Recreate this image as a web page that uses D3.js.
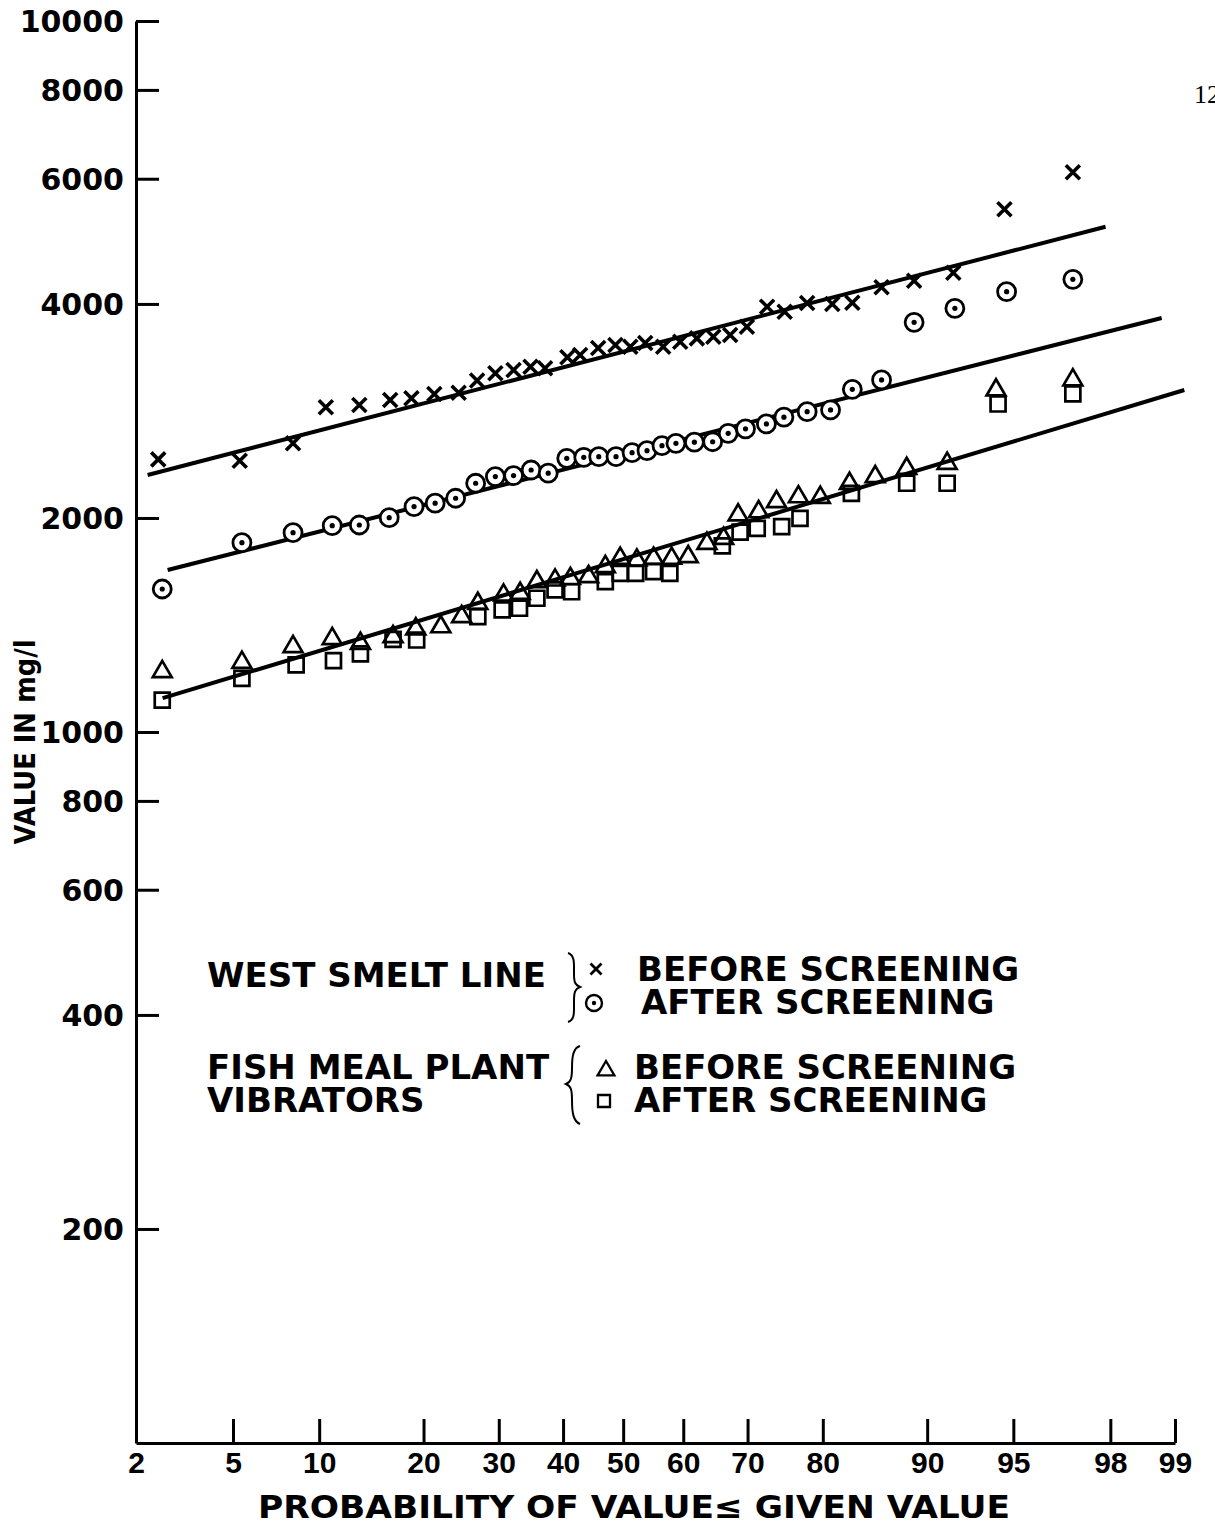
<!DOCTYPE html>
<html>
<head>
<meta charset="utf-8">
<script src="https://cdn.jsdelivr.net/npm/d3@7"></script>
<style>
  html, body { margin: 0; padding: 0; background: #fff; }
  svg { display: block; }
</style>
</head>
<body>
<div id="chart"></div>
<script>
// ===== data: probability (%) of value <= given value, value in mg/l =====

const xTicks = [2, 5, 10, 20, 30, 40, 50, 60, 70, 80, 90, 95, 98, 99]
const yTicks = [200, 400, 600, 800, 1000, 2000, 4000, 6000, 8000, 10000]

// west smelt line, before screening (x)
const smeltBeforeP = [2.5, 5.3, 8.2, 10.5, 13.3, 16.3, 18.6, 21.3, 24.4, 26.9, 29.5, 32.2, 34.8, 37.1, 40.7, 42.8, 45.8, 48.7,
  51.2, 53.7, 56.7, 59.5, 62.2, 64.8, 67.4, 69.9, 72.8, 75.2, 78.1, 81.1, 83.3, 86.2, 89.0, 91.8, 94.6, 97.1]
const smeltBeforeV = [2418, 2407, 2547, 2862, 2884, 2931, 2947, 2989, 3001, 3122, 3195, 3229, 3264, 3247, 3365, 3390, 3468, 3502,
  3483, 3525, 3483, 3540, 3578, 3597, 3618, 3715, 3965, 3900, 4013, 3999, 4016, 4222, 4312, 4426, 5435, 6128]

// west smelt line, after screening (dotted circle)
const smeltAfterP = [2.6, 5.4, 8.2, 11.0, 13.3, 16.2, 18.9, 21.4, 24.0, 26.7, 29.5, 32.2, 34.9, 37.6, 40.6, 43.4, 45.9, 48.8,
  51.5, 54.0, 56.5, 58.8, 61.8, 64.7, 67.1, 69.7, 72.7, 75.1, 78.1, 80.9, 83.3, 86.2, 89.0, 91.9, 94.7, 97.1]
const smeltAfterV = [1589, 1846, 1907, 1951, 1955, 2002, 2075, 2098, 2132, 2238, 2287, 2294, 2336, 2312, 2426, 2434, 2439, 2439,
  2471, 2487, 2528, 2547, 2556, 2560, 2631, 2669, 2712, 2772, 2822, 2838, 3034, 3127, 3769, 3944, 4162, 4332]

// fish meal plant vibrators, before screening (triangle)
const fishBeforeP = [2.6, 5.4, 8.2, 11.0, 13.4, 16.6, 19.1, 22.1, 24.8, 27.0, 30.7, 33.2, 35.8, 38.7, 41.2, 44.2, 47.0, 49.5,
  52.3, 55.1, 58.1, 60.8, 63.8, 66.4, 68.6, 71.6, 74.1, 77.0, 79.7, 83.0, 85.6, 88.4, 91.4, 94.2, 97.1]
const fishBeforeV = [1223, 1260, 1326, 1361, 1340, 1369, 1404, 1414, 1461, 1525, 1567, 1575, 1636, 1645, 1653, 1663, 1718, 1765,
  1755, 1765, 1765, 1774, 1852, 1882, 2031, 2052, 2120, 2154, 2150, 2249, 2299, 2361, 2400, 3044, 3145]

// fish meal plant vibrators, after screening (square)
const fishAfterP = [2.6, 5.4, 8.4, 11.1, 13.4, 16.6, 19.2, 27.0, 30.5, 33.1, 35.8, 38.7, 41.4, 47.0, 49.5, 52.1, 55.1, 57.8,
  66.2, 68.9, 71.4, 74.8, 77.2, 83.2, 88.4, 91.4, 94.3, 97.1]
const fishAfterV = [1109, 1190, 1243, 1260, 1288, 1350, 1347, 1453, 1485, 1493, 1542, 1584, 1575, 1627, 1672, 1672, 1681, 1672,
  1827, 1910, 1934, 1945, 1998, 2166, 2238, 2238, 2893, 2989]

// hand fitted lines, end points [probability, value]
const fitSmeltBefore = [[2.25, 2299], [97.9, 5136]]
const fitSmeltAfter = [[2.74, 1690], [98.84, 3822]]
const fitFish = [[2.61, 1116], [99.1, 3027]]

const legendGroups = ["WEST SMELT LINE", "FISH MEAL PLANT", "VIBRATORS"]
const legendItems = ["BEFORE SCREENING", "AFTER SCREENING", "BEFORE SCREENING", "AFTER SCREENING"]

// ===== normal probability transform (Acklam) =====
function probit(p) {
  const a = [-3.969683028665376e+01, 2.209460984245205e+02, -2.759285104469687e+02, 1.383577518672690e+02, -3.066479806614716e+01, 2.506628277459239e+00]
  const b = [-5.447609879822406e+01, 1.615858368580409e+02, -1.556989798598866e+02, 6.680131188771972e+01, -1.328068155288572e+01]
  const c = [-7.784894002430293e-03, -3.223964580411365e-01, -2.400758277161838e+00, -2.549732539343734e+00, 4.374664141464968e+00, 2.938163982698783e+00]
  const d = [7.784695709041462e-03, 3.224671290700398e-01, 2.445134137142996e+00, 3.754408661907416e+00]
  const plow = 0.02425
  let q, r
  if (p < plow) {
    q = Math.sqrt(-2 * Math.log(p))
    return (((((c[0]*q+c[1])*q+c[2])*q+c[3])*q+c[4])*q+c[5]) / ((((d[0]*q+d[1])*q+d[2])*q+d[3])*q+1)
  }
  if (p <= 1 - plow) {
    q = p - 0.5; r = q * q
    return (((((a[0]*r+a[1])*r+a[2])*r+a[3])*r+a[4])*r+a[5])*q / (((((b[0]*r+b[1])*r+b[2])*r+b[3])*r+b[4])*r+1)
  }
  q = Math.sqrt(-2 * Math.log(1 - p))
  return -(((((c[0]*q+c[1])*q+c[2])*q+c[3])*q+c[4])*q+c[5]) / ((((d[0]*q+d[1])*q+d[2])*q+d[3])*q+1)
}

const zip = (ps, vs) => ps.map((p, i) => [p, vs[i]])

// ===== scales =====
const width = 1215, height = 1527
const plotLeft = 136, plotRight = 1175, plotTop = 21, plotBottom = 1443

const zScale = d3.scaleLinear()
  .domain([probit(xTicks[0] / 100), probit(xTicks[xTicks.length - 1] / 100)])
  .range([plotLeft, plotRight])
const x = p => zScale(probit(p / 100))
const y = d3.scaleLog().domain([100, 10000]).range([plotBottom, plotTop])

const svg = d3.select("#chart").append("svg")
  .attr("width", width)
  .attr("height", height)
  .attr("viewBox", [0, 0, width, height])

const geo = "'DejaVu Sans', sans-serif"
const helv = "'Liberation Sans', Arial, sans-serif"

// ===== axes =====
const yAxis = svg.append("g")
  .attr("transform", `translate(${plotLeft},0)`)
  .call(d3.axisLeft(y).tickValues(yTicks).tickFormat(d3.format("d"))
    .tickSize(-23).tickSizeOuter(0).tickPadding(12))
yAxis.select(".domain").attr("stroke", "#000").attr("stroke-width", 3)
yAxis.selectAll(".tick line").attr("stroke", "#000").attr("stroke-width", 3)
yAxis.selectAll(".tick text")
  .attr("fill", "#000")
  .attr("font-family", geo)
  .attr("font-weight", "bold")
  .attr("font-size", 30)
  .attr("dy", "0.36em")

const xAxis = svg.append("g")
  .attr("transform", `translate(0,${plotBottom})`)
  .call(d3.axisBottom(zScale).tickValues(xTicks.map(p => probit(p / 100)))
    .tickFormat((d, i) => xTicks[i]).tickSize(-24).tickSizeOuter(0).tickPadding(9))
xAxis.select(".domain").attr("stroke", "#000").attr("stroke-width", 3)
xAxis.selectAll(".tick line").attr("stroke", "#000").attr("stroke-width", 3)
xAxis.selectAll(".tick text")
  .attr("fill", "#000")
  .attr("font-family", helv)
  .attr("font-weight", "bold")
  .attr("font-size", 30)

svg.append("text")
  .attr("x", (258 + 1010) / 2)
  .attr("y", 1518)
  .attr("text-anchor", "middle")
  .attr("font-family", geo)
  .attr("font-weight", "bold")
  .attr("font-size", 32)
  .attr("textLength", 752)
  .attr("lengthAdjust", "spacingAndGlyphs")
  .text("PROBABILITY OF VALUE\u2264 GIVEN VALUE")

svg.append("text")
  .attr("transform", "translate(35,742) rotate(-90)")
  .attr("text-anchor", "middle")
  .attr("font-family", geo)
  .attr("font-weight", "bold")
  .attr("font-size", 29)
  .attr("textLength", 205)
  .attr("lengthAdjust", "spacingAndGlyphs")
  .text("VALUE IN mg/l")

// page number, cut by the edge as on the scanned page
svg.append("text")
  .attr("x", 1194)
  .attr("y", 103)
  .attr("font-family", "'Liberation Serif', 'Times New Roman', serif")
  .attr("font-size", 26)
  .text("12")

// ===== fitted lines =====
const line = d3.line().x(d => x(d[0])).y(d => y(d[1]))
svg.append("g")
  .attr("fill", "none")
  .attr("stroke", "#000")
  .attr("stroke-width", 4)
  .selectAll("path")
  .data([fitSmeltBefore, fitSmeltAfter, fitFish])
  .join("path")
  .attr("d", line)

// ===== markers =====
const cross = s => `M${-s},${-s}L${s},${s}M${-s},${s}L${s},${-s}`
const tri = s => `M0,${-s}L${s * 1.05},${s * 0.8}L${-s * 1.05},${s * 0.8}Z`
const square = s => `M${-s},${-s}H${s}V${s}H${-s}Z`

function drawCrosses(g, data, s, sw) {
  g.selectAll(null).data(data).join("path")
    .attr("transform", d => `translate(${x(d[0])},${y(d[1])})`)
    .attr("d", cross(s))
    .attr("fill", "none").attr("stroke", "#000").attr("stroke-width", sw)
}
function drawDotCircles(g, data, r, sw, dot) {
  const m = g.selectAll(null).data(data).join("g")
    .attr("transform", d => `translate(${x(d[0])},${y(d[1])})`)
  m.append("circle").attr("r", r).attr("fill", "#fff").attr("stroke", "#000").attr("stroke-width", sw)
  m.append("circle").attr("r", dot).attr("fill", "#000")
}
function drawShapes(g, data, shape, s, sw) {
  g.selectAll(null).data(data).join("path")
    .attr("transform", d => `translate(${x(d[0])},${y(d[1])})`)
    .attr("d", shape(s))
    .attr("fill", "none").attr("stroke", "#000").attr("stroke-width", sw)
    .attr("stroke-linejoin", "miter")
}

const marks = svg.append("g")
drawCrosses(marks.append("g"), zip(smeltBeforeP, smeltBeforeV), 7, 3.6)
drawDotCircles(marks.append("g"), zip(smeltAfterP, smeltAfterV), 9, 2.8, 2.6)
drawShapes(marks.append("g"), zip(fishBeforeP, fishBeforeV), tri, 9, 2.7)
drawShapes(marks.append("g"), zip(fishAfterP, fishAfterV), square, 7.5, 2.7)

// ===== legend =====
const legend = svg.append("g")
  .attr("font-family", geo)
  .attr("font-weight", "bold")
  .attr("font-size", 34)
  .attr("fill", "#000")

legend.append("text").attr("x", 207).attr("y", 987).text(legendGroups[0])
legend.append("text").attr("x", 207).attr("y", 1079).text(legendGroups[1])
legend.append("text").attr("x", 207).attr("y", 1112).text(legendGroups[2])

legend.append("text").attr("x", 637).attr("y", 981).text(legendItems[0])
legend.append("text").attr("x", 641).attr("y", 1014).text(legendItems[1])
legend.append("text").attr("x", 634).attr("y", 1079).text(legendItems[2])
legend.append("text").attr("x", 634).attr("y", 1112).text(legendItems[3])

// braces: "}" for the first group, "{" for the second
legend.append("path")
  .attr("d", "M568,953C575,955 574,964 574,974C574,982 575,985 580,987C575,989 574,992 574,1001C574,1012 575,1020 568,1022")
  .attr("fill", "none").attr("stroke", "#000").attr("stroke-width", 2)
legend.append("path")
  .attr("d", "M580,1046C573,1048 572,1057 572,1068C572,1078 571,1082 566,1084C571,1086 572,1090 572,1100C572,1112 573,1121 580,1124")
  .attr("fill", "none").attr("stroke", "#000").attr("stroke-width", 2)

const lm = legend.append("g").attr("fill", "none").attr("stroke", "#000")
lm.append("path").attr("transform", "translate(596,969)").attr("d", cross(5.5)).attr("stroke-width", 2.8)
lm.append("circle").attr("cx", 594).attr("cy", 1003).attr("r", 8).attr("stroke-width", 2.4)
lm.append("circle").attr("cx", 594).attr("cy", 1003).attr("r", 2.2).attr("fill", "#000").attr("stroke", "none")
lm.append("path").attr("transform", "translate(606,1069)").attr("d", tri(8)).attr("stroke-width", 2.3)
lm.append("path").attr("transform", "translate(604,1101)").attr("d", square(6)).attr("stroke-width", 2.3)
</script>
</body>
</html>
